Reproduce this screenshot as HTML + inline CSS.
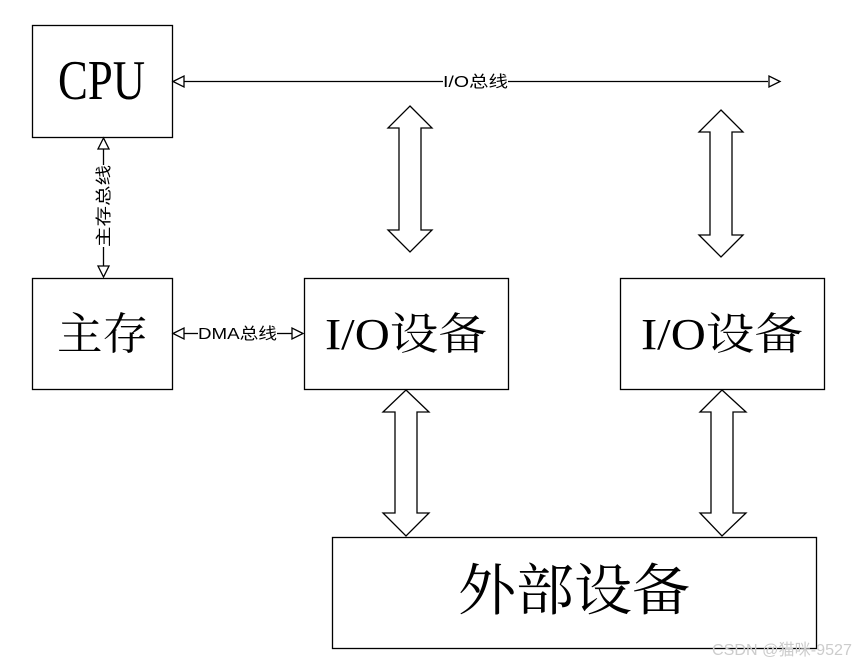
<!DOCTYPE html>
<html><head><meta charset="utf-8"><style>body{margin:0;background:#fff}svg{display:block}</style></head><body>
<svg width="856" height="661" xmlns="http://www.w3.org/2000/svg">
<g fill="none" stroke="#000" stroke-width="1.3">
<rect x="32.5" y="25.5" width="140" height="112"/>
<rect x="32.5" y="278.5" width="140" height="111"/>
<rect x="304.5" y="278.5" width="204" height="111"/>
<rect x="620.5" y="278.5" width="204" height="111"/>
<rect x="332.5" y="537.5" width="484" height="111"/>
<line x1="184" y1="81.5" x2="443" y2="81.5"/>
<line x1="508" y1="81.5" x2="768" y2="81.5"/>
<polygon points="173,81.5 184,76 184,87"/>
<polygon points="780,81.5 769,76 769,87"/>
<line x1="103.5" y1="149" x2="103.5" y2="165"/>
<line x1="103.5" y1="247" x2="103.5" y2="266"/>
<polygon points="103.5,138 98,149 109,149"/>
<polygon points="103.5,277 98,266 109,266"/>
<line x1="184" y1="333.5" x2="198" y2="333.5"/>
<line x1="277" y1="333.5" x2="292" y2="333.5"/>
<polygon points="173,333.5 184,328 184,339"/>
<polygon points="303,333.5 292,328 292,339"/>
<polygon points="410,106 432,128 421,128 421,230 432,230 410,252 388,230 399,230 399,128 388,128"/>
<polygon points="721,110 743,132 732,132 732,235 743,235 721,257 699,235 710,235 710,132 699,132"/>
<polygon points="406,390 429,412 417,412 417,513 429,513 406,536 383,513 395,513 395,412 383,412"/>
<polygon points="722,390 746,412 733,412 733,513 746,513 722,536 700,513 711,513 711,412 700,412"/>
</g>
<g font-family="Liberation Serif, 'Noto Serif CJK SC', serif" fill="#000">
<text x="58" y="99" font-size="56" textLength="87" lengthAdjust="spacingAndGlyphs">CPU</text>
<text x="57" y="349" font-size="44" textLength="91" lengthAdjust="spacingAndGlyphs">主存</text>
<text x="325" y="349" font-size="44" textLength="162" lengthAdjust="spacingAndGlyphs">I/O设备</text>
<text x="641" y="349" font-size="44" textLength="162" lengthAdjust="spacingAndGlyphs">I/O设备</text>
<text x="458" y="610" font-size="56" textLength="232" lengthAdjust="spacingAndGlyphs">外部设备</text>
</g>
<g font-family="Liberation Sans, 'Noto Sans CJK SC', sans-serif" font-size="16" fill="#000">
<text x="443" y="87" textLength="65" lengthAdjust="spacingAndGlyphs">I/O总线</text>
<text x="198" y="339" textLength="79" lengthAdjust="spacingAndGlyphs">DMA总线</text>
<text transform="translate(109,247) rotate(-90)" textLength="82" lengthAdjust="spacingAndGlyphs">主存总线</text>
</g>
<text x="712" y="655" font-family="Liberation Sans, 'Noto Sans CJK SC', sans-serif" font-size="16" fill="#ccc" textLength="140" lengthAdjust="spacingAndGlyphs">CSDN @猫咪-9527</text>
</svg>
</body></html>
